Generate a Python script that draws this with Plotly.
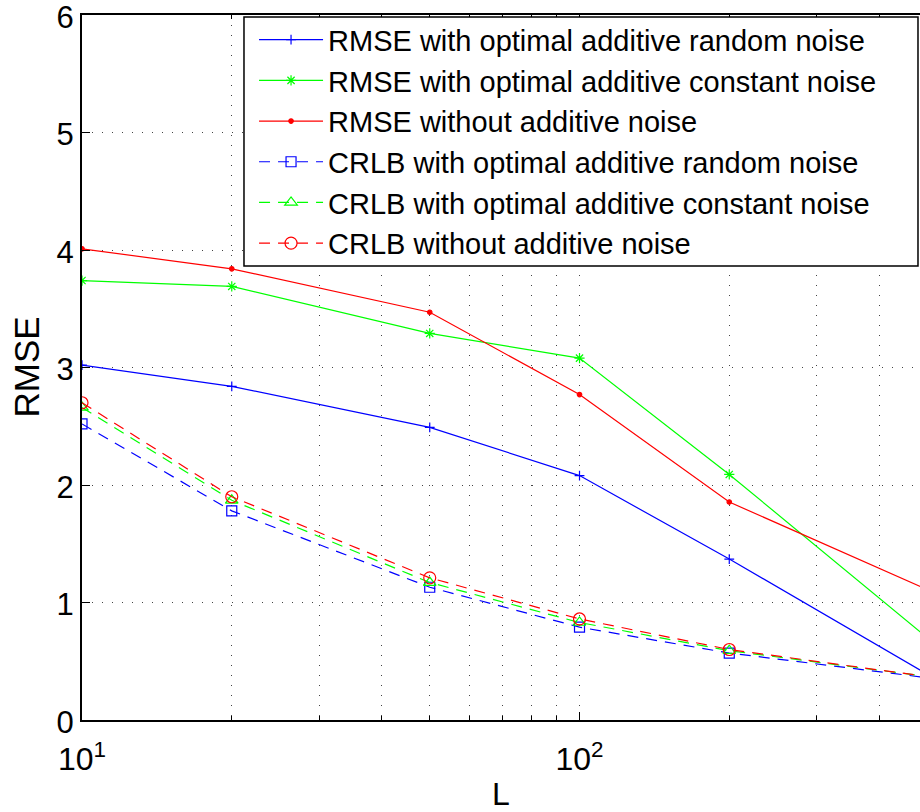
import plotly.graph_objects as go

L = [10, 20, 50, 100, 200, 500]

rmse_random = [3.02, 2.84, 2.49, 2.08, 1.37, 0.39]
rmse_constant = [3.74, 3.69, 3.29, 3.08, 2.09, 0.70]
rmse_none = [4.01, 3.84, 3.47, 2.77, 1.855, 1.11]
crlb_random = [2.52, 1.78, 1.13, 0.79, 0.57, 0.36]
crlb_constant = [2.66, 1.87, 1.17, 0.83, 0.59, 0.37]
crlb_none = [2.70, 1.90, 1.21, 0.86, 0.60, 0.37]

names = [
    "RMSE with optimal additive random noise",
    "RMSE with optimal additive constant noise",
    "RMSE without additive noise",
    "CRLB with optimal additive random noise",
    "CRLB with optimal additive constant noise",
    "CRLB without additive noise",
]

x_tickvals = [10, 100]
x_ticktext = ["10<sup>1</sup>", "10<sup>2</sup>"]
x_minor = [20, 30, 40, 50, 60, 70, 80, 90, 200, 300, 400]
y_tickvals = [0, 1, 2, 3, 4, 5, 6]

BLUE, GREEN, RED = "#0000ff", "#00ff00", "#ff0000"
FONT = "Liberation Sans, Arial, Helvetica, sans-serif"
DASH = "11px,8px"

series = [
    (rmse_random, BLUE, "solid", "cross-thin-open", 7),
    (rmse_constant, GREEN, "solid", "asterisk-open", 8.5),
    (rmse_none, RED, "solid", "circle", 4.5),
    (crlb_random, BLUE, DASH, "square-open", 10),
    (crlb_constant, GREEN, DASH, "triangle-up-open", 11),
    (crlb_none, RED, DASH, "circle-open", 12),
]

fig = go.Figure()
for (vals, color, dash, sym, size), name in zip(series, names):
    fig.add_trace(go.Scatter(
        x=L, y=vals, name=name, mode="lines+markers",
        line=dict(color=color, width=1.2, dash=dash),
        marker=dict(symbol=sym, size=size, color=color,
                    line=dict(color=color, width=1.2)),
        cliponaxis=True,
    ))

grid = dict(showgrid=True, gridcolor="#444", griddash="1px,9px", gridwidth=1)

# legend frame (white box with black border, like MATLAB's legend)
fig.add_shape(type="rect", xref="paper", yref="paper",
              x0=0.1933, x1=0.9976, y0=0.644, y1=0.9972,
              line=dict(color="black", width=1.5), fillcolor="white", layer="above")

# y-axis label, placed like MATLAB's ylabel
fig.add_annotation(text="RMSE", xref="paper", yref="paper",
                   x=-0.0668, y=0.5, xanchor="center", yanchor="middle",
                   textangle=-90, showarrow=False,
                   font=dict(family=FONT, size=35, color="black"))

fig.update_layout(
    width=920, height=812,
    margin=dict(l=82, r=0, t=15, b=92, autoexpand=False),
    paper_bgcolor="white", plot_bgcolor="white",
    font=dict(family=FONT, size=30, color="black"),
    showlegend=True,
    legend=dict(
        x=0.2053, y=1.001, xanchor="left", yanchor="top",
        bgcolor="rgba(0,0,0,0)", borderwidth=0,
        font=dict(family=FONT, size=29, color="black"),
        itemwidth=64, tracegroupgap=0,
    ),
    xaxis=dict(
        type="log", range=[1, 2.6844], automargin=False,
        tickmode="array", tickvals=x_tickvals, ticktext=x_ticktext,
        ticks="inside", ticklen=8, tickwidth=1, tickcolor="black",
        ticklabelstandoff=10,
        showline=True, linecolor="black", linewidth=2, mirror="ticks",
        zeroline=False,
        tickfont=dict(family=FONT, size=32, color="black"),
        title=dict(text="L", font=dict(family=FONT, size=32, color="black"), standoff=15),
        minor=dict(tickmode="array", tickvals=x_minor, ticks="inside", ticklen=4,
                   tickcolor="black", **grid),
        **grid,
    ),
    yaxis=dict(
        range=[0, 6], tickmode="array", tickvals=y_tickvals, automargin=False,
        ticks="inside", ticklen=8, tickwidth=1, tickcolor="black",
        ticklabeloverflow="allow", ticklabelshift=2,
        showline=True, linecolor="black", linewidth=2, mirror=False,
        zeroline=False,
        tickfont=dict(family=FONT, size=31, color="black"),
        **grid,
    ),
)

fig.write_html("out.html")
